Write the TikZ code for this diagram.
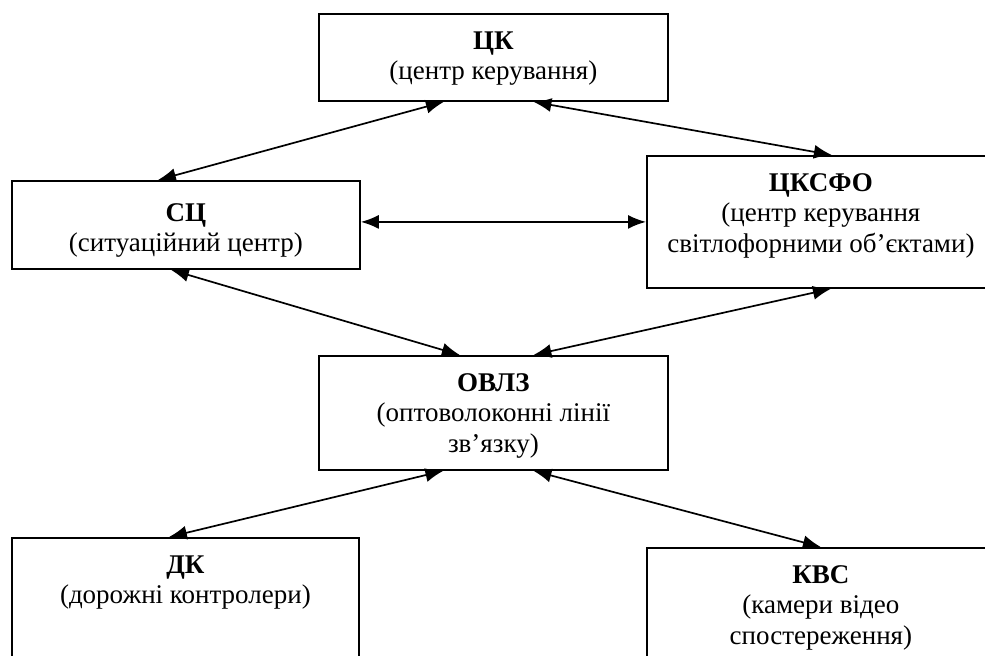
\documentclass[tikz,border=0pt]{standalone}
\usepackage{fontspec}
\setmainfont{Liberation Serif}
\usetikzlibrary{arrows.meta, positioning}
\tikzset{
  block/.style={
    draw,
    line width=0.9pt,
    anchor=north west,
    inner sep=0pt,
  },
  block text/.style={
    align=center,
    inner sep=0pt,
    font=\fontsize{13.5}{15.3}\selectfont,
  },
  link/.style={
    line width=0.85pt,
    {Latex[length=9pt,width=7pt]}-{Latex[length=9pt,width=7pt]},
  },
}

\begin{document}
\begin{tikzpicture}[x=0.5pt, y=-0.5pt]
      \useasboundingbox (0,0) rectangle (985,655);
      \clip (0,0) rectangle (985,655);

      % blocks
      \node[block, minimum width=174.5pt, minimum height=43.5pt] (ck) at (318,13) {};
      \node[block, minimum width=174pt, minimum height=44pt] (sc) at (11,180) {};
      \node[block, minimum width=174pt, minimum height=66pt] (cksfo) at (646,155) {};
      \node[block, minimum width=174.5pt, minimum height=57pt] (ovlz) at (318,355) {};
      \node[block, minimum width=173.5pt, minimum height=100pt] (dk) at (11,537) {};
      \node[block, minimum width=174pt, minimum height=100pt] (kvs) at (646,547) {};

      \node[block text, below=9pt of ck.north] {\textbf{ЦК}\\(центр керування)};
      \node[block text, below=11.5pt of sc.north] {\textbf{СЦ}\\(ситуаційний центр)};
      \node[block text, below=9pt of cksfo.north] {\textbf{ЦКСФО}\\(центр керування\\світлофорними об’єктами)};
      \node[block text, below=9pt of ovlz.north] {\textbf{ОВЛЗ}\\(оптоволоконні лінії\\зв’язку)};
      \node[block text, below=9pt of dk.north] {\textbf{ДК}\\(дорожні контролери)};
      \node[block text, below=9pt of kvs.north] {\textbf{КВС}\\(камери відео\\спостереження)};

      % links
      \draw[link] ([xshift=-24.75pt]ck.south) -- ([xshift=-14pt]sc.north);
      \draw[link] ([xshift=20pt]ck.south) -- ([xshift=5.5pt]cksfo.north);
      \draw[link] (sc.east |- cksfo.west) -- (cksfo.west);
      \draw[link] ([xshift=-7.5pt]sc.south) -- ([xshift=-16.75pt]ovlz.north);
      \draw[link] ([xshift=5pt]cksfo.south) -- ([xshift=20pt]ovlz.north);
      \draw[link] ([xshift=-25pt]ovlz.south) -- ([xshift=-8.25pt]dk.north);
      \draw[link] ([xshift=20pt]ovlz.south) -- (kvs.north);
    \end{tikzpicture}
\end{document}
